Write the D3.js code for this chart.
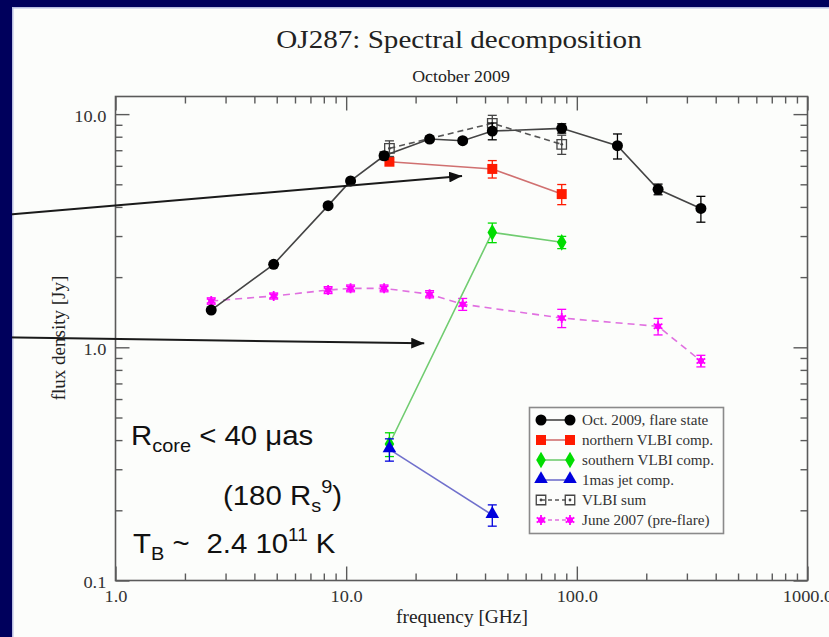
<!DOCTYPE html>
<html>
<head>
<meta charset="utf-8">
<script src="https://cdn.jsdelivr.net/npm/d3@7"></script>
<style>
  html, body { margin: 0; padding: 0; background: #fcfdfb; }
  svg { display: block; }
</style>
</head>
<body>
<svg id="chart" width="829" height="637"></svg>
<script>
// ---- data -------------------------------------------------------------
// Oct. 2009, flare state (single-dish spectrum)
const freqOct = [2.6, 4.85, 8.35, 10.45, 14.6, 23.0, 32.0, 43.0, 86.0, 150.0, 225.0, 345.0];
const fluxOct = [1.445, 2.27, 4.05, 5.17, 6.63, 7.82, 7.69, 8.46, 8.69, 7.32, 4.76, 3.94];
const errOct  = [0, 0, 0, 0, 0.25, 0.2, 0.2, 0.7, 0.4, 0.9, 0.25, 0.5];

// VLBI components
const freqVlbi   = [15.4, 43.0, 86.0];
const fluxNorth  = [6.25, 5.82, 4.54];
const errNorth   = [0.2, 0.5, 0.45];
const fluxSouth  = [0.385, 3.11, 2.82];
const errSouth   = [0.045, 0.3, 0.17];
const fluxSum    = [7.13, 9.13, 7.42];
const errSum     = [0.55, 0.75, 0.7];

// 1 mas jet component
const freqJet = [15.4, 43.0];
const fluxJet = [0.365, 0.191];
const errJet  = [0.04, 0.02];

// June 2007 (pre-flare)
const freqJune = [2.6, 4.85, 8.35, 10.45, 14.6, 23.0, 32.0, 86.0, 225.0, 345.0];
const fluxJune = [1.58, 1.66, 1.76, 1.79, 1.79, 1.69, 1.53, 1.335, 1.23, 0.874];
const errJune  = [0.05, 0.05, 0.06, 0.06, 0.06, 0.06, 0.09, 0.12, 0.1, 0.05];

// axis tick labels
const xTickValues = [1, 10, 100, 1000];
const xTickLabels = ["1.0", "10.0", "100.0", "1000.0"];
const yTickValues = [0.1, 1, 10];
const yTickLabels = ["0.1", "1.0", "10.0"];

// legend entries
const legendLabels = ["Oct. 2009, flare state", "northern VLBI comp.", "southern VLBI comp.",
                      "1mas jet comp.", "VLBI sum", "June 2007 (pre-flare)"];

// pointer arrows, given in [frequency, flux] (start, tip)
const arrowPaths = [
  [[0.318, 3.68], [31.8, 5.43]],
  [[0.318, 1.104], [21.8, 1.04]]
];

// ---- layout -----------------------------------------------------------
const W = 829, H = 637;
const plot = { left: 115.5, right: 807.5, top: 96.5, bottom: 580.5 };
const serif = "'Liberation Serif', 'Times New Roman', serif";
const sans = "'Liberation Sans', Arial, sans-serif";

const svg = d3.select("#chart");

// slide frame
svg.append("rect").attr("x", 0).attr("y", 0).attr("width", W).attr("height", H).attr("fill", "#00005c");
svg.append("rect").attr("x", 12).attr("y", 7).attr("width", W - 12).attr("height", H - 7).attr("fill", "#b8bde0");
svg.append("rect").attr("x", 13.5).attr("y", 8.5).attr("width", W - 13.5).attr("height", H - 8.5).attr("fill", "#fcfdfb");

const x = d3.scaleLog().domain([1, 1000]).range([plot.left, plot.right]);
const y = d3.scaleLog().domain([0.1, 11.9]).range([plot.bottom, plot.top]);

// text with the slight horizontal widening of the slide font
function wideText(parent, px, py, str, size, family, sx, anchor) {
  return parent.append("text")
    .attr("transform", `translate(${px},${py}) scale(${sx},1)`)
    .attr("text-anchor", anchor || "middle")
    .attr("font-family", family)
    .attr("font-size", size)
    .attr("fill", "#222")
    .text(str);
}

// titles
wideText(svg, 459, 48, "OJ287: Spectral decomposition", 26, serif, 1.12);
wideText(svg, 461, 81.5, "October 2009", 17, serif, 1.05);

// ---- axes ---------------------------------------------------------------
const frameColor = "#5a5a5a";
const xMinorVals = x.ticks().filter(v => !xTickValues.includes(v));
const yMinorVals = y.ticks().filter(v => !yTickValues.some(t => Math.abs(t - v) < 1e-9) && v < 11.9);

function styleAxis(g) {
  g.select(".domain").remove();
  g.selectAll("line").attr("stroke", frameColor).attr("stroke-width", 1.4);
  g.selectAll("text").attr("font-family", serif).attr("font-size", 17).attr("fill", "#333");
}

const xFmt = v => xTickLabels[xTickValues.indexOf(v)];
const yFmt = v => yTickLabels[yTickValues.findIndex(t => Math.abs(t - v) < 1e-9)];

// bottom
svg.append("g").attr("transform", `translate(0,${plot.bottom})`)
  .call(d3.axisBottom(x).tickValues(xTickValues).tickFormat(xFmt).tickSizeInner(-14).tickSizeOuter(0).tickPadding(9))
  .call(styleAxis)
  .call(g => g.selectAll("text").attr("transform", "scale(1.08,1)"));
svg.append("g").attr("transform", `translate(0,${plot.bottom})`)
  .call(d3.axisBottom(x).tickValues(xMinorVals).tickFormat("").tickSizeInner(-7).tickSizeOuter(0))
  .call(styleAxis);
// top
svg.append("g").attr("transform", `translate(0,${plot.top})`)
  .call(d3.axisTop(x).tickValues(xTickValues).tickFormat("").tickSizeInner(-14).tickSizeOuter(0))
  .call(styleAxis);
svg.append("g").attr("transform", `translate(0,${plot.top})`)
  .call(d3.axisTop(x).tickValues(xMinorVals).tickFormat("").tickSizeInner(-7).tickSizeOuter(0))
  .call(styleAxis);
// left
svg.append("g").attr("transform", `translate(${plot.left},0)`)
  .call(d3.axisLeft(y).tickValues(yTickValues).tickFormat(yFmt).tickSizeInner(-14).tickSizeOuter(0).tickPadding(8.5))
  .call(styleAxis)
  .call(g => g.selectAll("text").attr("dy", "0.44em").attr("transform", "scale(1.08,1)"));
svg.append("g").attr("transform", `translate(${plot.left},0)`)
  .call(d3.axisLeft(y).tickValues(yMinorVals).tickFormat("").tickSizeInner(-7).tickSizeOuter(0))
  .call(styleAxis);
// right
svg.append("g").attr("transform", `translate(${plot.right},0)`)
  .call(d3.axisRight(y).tickValues(yTickValues).tickFormat("").tickSizeInner(-14).tickSizeOuter(0))
  .call(styleAxis);
svg.append("g").attr("transform", `translate(${plot.right},0)`)
  .call(d3.axisRight(y).tickValues(yMinorVals).tickFormat("").tickSizeInner(-7).tickSizeOuter(0))
  .call(styleAxis);

// frame
svg.append("rect")
  .attr("x", plot.left).attr("y", plot.top)
  .attr("width", plot.right - plot.left).attr("height", plot.bottom - plot.top)
  .attr("fill", "none").attr("stroke", frameColor).attr("stroke-width", 1.6);

// axis titles
wideText(svg, 462, 623, "frequency [GHz]", 19, serif, 1.02);
svg.append("text")
  .attr("transform", `translate(65,338) rotate(-90)`)
  .attr("text-anchor", "middle")
  .attr("font-family", serif).attr("font-size", 19).attr("fill", "#222")
  .text("flux density [Jy]");

// ---- series -----------------------------------------------------------
const series = [
  { f: freqJune, v: fluxJune, e: errJune, line: "#e070e0", mark: "#ff00ff", dash: "7,5", shape: "asterisk" },
  { f: freqVlbi, v: fluxSouth, e: errSouth, line: "#70cc70", mark: "#00dd00", dash: null, shape: "diamond" },
  { f: freqJet, v: fluxJet, e: errJet, line: "#7070cc", mark: "#0000dd", dash: null, shape: "triangle" },
  { f: freqVlbi, v: fluxNorth, e: errNorth, line: "#d07070", mark: "#ff1a00", dash: null, shape: "square" },
  { f: freqVlbi, v: fluxSum, e: errSum, line: "#555", mark: "#444", dash: "6,4", shape: "open" },
  { f: freqOct, v: fluxOct, e: errOct, line: "#444", mark: "#000", dash: null, shape: "circle" }
];

function drawMarker(g, shape, color, px, py) {
  if (shape === "circle") {
    g.append("path").attr("d", d3.symbol(d3.symbolCircle, 95)()).attr("transform", `translate(${px},${py})`).attr("fill", color);
  } else if (shape === "square") {
    g.append("path").attr("d", d3.symbol(d3.symbolSquare, 100)()).attr("transform", `translate(${px},${py})`).attr("fill", color);
  } else if (shape === "diamond") {
    g.append("path").attr("d", d3.symbol(d3.symbolDiamond, 80)()).attr("transform", `translate(${px},${py})`).attr("fill", color);
  } else if (shape === "triangle") {
    g.append("path").attr("d", d3.symbol(d3.symbolTriangle, 80)()).attr("transform", `translate(${px},${py - 1})`).attr("fill", color);
  } else if (shape === "open") {
    g.append("path").attr("d", d3.symbol(d3.symbolSquare, 90)()).attr("transform", `translate(${px},${py})`)
      .attr("fill", "none").attr("stroke", color).attr("stroke-width", 1.3);
    g.append("path").attr("d", d3.symbol(d3.symbolCircle, 6)()).attr("transform", `translate(${px},${py})`).attr("fill", color);
  } else if (shape === "asterisk") {
    g.append("path").attr("d", d3.symbol(d3.symbolCircle, 30)()).attr("transform", `translate(${px},${py})`).attr("fill", color);
    g.append("path").attr("d", d3.symbol(d3.symbolAsterisk, 70)()).attr("transform", `translate(${px},${py})`)
      .attr("fill", "none").attr("stroke", color).attr("stroke-width", 1.8);
  }
}

const dataLayer = svg.append("g");
series.forEach(s => {
  const pts = s.f.map((f, i) => ({ f, v: s.v[i], e: s.e[i] }));
  const g = dataLayer.append("g");
  g.append("path")
    .datum(pts)
    .attr("d", d3.line().x(d => x(d.f)).y(d => y(d.v)))
    .attr("fill", "none").attr("stroke", s.line).attr("stroke-width", 1.6)
    .attr("stroke-dasharray", s.dash);
  const errColor = s.shape === "open" ? "#444" : s.mark;
  pts.filter(d => d.e > 0).forEach(d => {
    const cx = x(d.f), y1 = y(d.v + d.e), y0 = y(d.v - d.e);
    g.append("line").attr("x1", cx).attr("x2", cx).attr("y1", y1).attr("y2", y0).attr("stroke", errColor).attr("stroke-width", 1.3);
    g.append("line").attr("x1", cx - 4.5).attr("x2", cx + 4.5).attr("y1", y1).attr("y2", y1).attr("stroke", errColor).attr("stroke-width", 1.3);
    g.append("line").attr("x1", cx - 4.5).attr("x2", cx + 4.5).attr("y1", y0).attr("y2", y0).attr("stroke", errColor).attr("stroke-width", 1.3);
  });
  pts.forEach(d => drawMarker(g, s.shape, s.mark, x(d.f), y(d.v)));
});

// ---- legend -----------------------------------------------------------
const legend = svg.append("g");
legend.append("rect").attr("x", 529.5).attr("y", 407.5).attr("width", 194).attr("height", 126)
  .attr("fill", "#fcfdfb").attr("stroke", "#8a8a8a").attr("stroke-width", 1.6);
const legendOrder = [5, 3, 1, 2, 4, 0];
legendOrder.forEach((si, i) => {
  const s = series[si];
  const ly = 420 + i * 20;
  legend.append("line").attr("x1", 541).attr("x2", 570).attr("y1", ly).attr("y2", ly)
    .attr("stroke", s.line).attr("stroke-width", 1.6).attr("stroke-dasharray", s.dash ? "4,3" : null);
  drawMarker(legend, s.shape, s.mark, 541, ly);
  drawMarker(legend, s.shape, s.mark, 570, ly);
  wideText(legend, 582, ly + 4.5, legendLabels[i], 14, serif, 1.08, "start").attr("fill", "#333");
});

// ---- pointer arrows -----------------------------------------------------
svg.append("defs").append("marker")
  .attr("id", "head").attr("viewBox", "0 0 12 10").attr("refX", 12).attr("refY", 5)
  .attr("markerWidth", 13).attr("markerHeight", 11).attr("markerUnits", "userSpaceOnUse")
  .attr("orient", "auto")
  .append("path").attr("d", "M0,0 L12,5 L0,10 Z").attr("fill", "#111");
arrowPaths.forEach(a => {
  svg.append("line")
    .attr("x1", x(a[0][0])).attr("y1", y(a[0][1]))
    .attr("x2", x(a[1][0])).attr("y2", y(a[1][1]))
    .attr("stroke", "#1a1a1a").attr("stroke-width", 2)
    .attr("marker-end", "url(#head)");
});
// keep the slide's left band above the arrow tails
svg.append("rect").attr("x", 0).attr("y", 0).attr("width", 12).attr("height", H).attr("fill", "#00005c");

// ---- annotations --------------------------------------------------------
const note = svg.append("g").attr("font-family", sans).attr("fill", "#111");
function noteLine(px, py, parts) {
  const t = note.append("text").attr("transform", `translate(${px},${py}) scale(1.05,1)`).attr("font-size", 28);
  parts.forEach(p => {
    t.append("tspan").attr("font-size", p.size || 28).attr("dy", p.dy || 0).attr("dx", p.dx || 0).text(p.t);
  });
}
noteLine(131, 445, [{ t: "R" }, { t: "core", size: 19, dy: 7 }, { t: " < 40 μas", dy: -7 }]);
noteLine(223, 505, [{ t: "(180 R" }, { t: "s", size: 19, dy: 7 }, { t: "9", size: 19, dy: -19 }, { t: ")", dy: 12 }]);
noteLine(133, 553, [{ t: "T" }, { t: "B", size: 19, dy: 7 }, { t: " ~", dy: -7 }, { t: "2.4 10", dx: 16 },
                    { t: "11", size: 18, dy: -12 }, { t: " K", dy: 12 }]);
</script>
</body>
</html>
